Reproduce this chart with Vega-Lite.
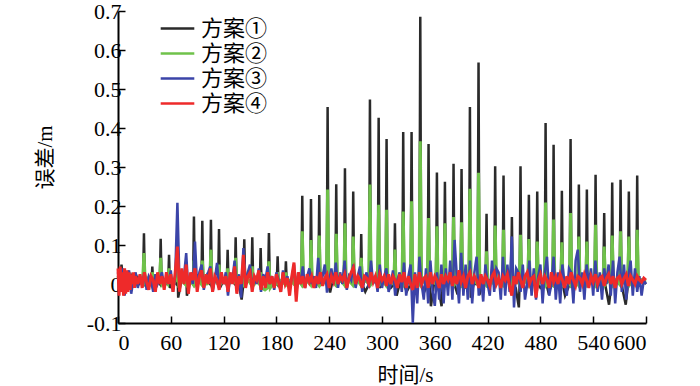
{
"$schema":"https://vega.github.io/schema/vega-lite/v6.json",
"width":528,"height":312,
"autosize":{"type":"none"},
"padding":{"left":118,"top":11,"right":54,"bottom":63},
"background":"white",
"config":{"view":{"stroke":null},"font":"Liberation Serif, Times New Roman, DejaVu Serif, serif",
"axis":{"grid":false,"domainColor":"black","domainWidth":2,"tickColor":"black","tickWidth":1.5,"tickSize":-7,"labelFont":"Liberation Serif, Times New Roman, DejaVu Serif, serif","labelFontSize":22,"labelColor":"black","titleFont":"Liberation Serif, Noto Sans CJK SC, serif","titleFontSize":21,"titleFontWeight":"normal","titleColor":"black"}},
"datasets":{
"k":[{"t":0,"v":0.02},{"t":2,"v":-0.01},{"t":4,"v":0.05},{"t":6,"v":0},{"t":9,"v":0.02},{"t":12,"v":-0.01},{"t":15,"v":0.02},{"t":18,"v":0},{"t":21,"v":0.02},{"t":24,"v":0},{"t":28.5,"v":0.01},{"t":29.5,"v":0.13},{"t":30.5,"v":0},{"t":34,"v":0.01},
{"t":38,"v":0},{"t":39,"v":0.045},{"t":40,"v":0},{"t":44,"v":0.01},
{"t":47.5,"v":0},{"t":48.5,"v":0.116},{"t":49.5,"v":0.01},{"t":53,"v":0},
{"t":57,"v":0},{"t":58,"v":0.075},{"t":59,"v":-0.01},{"t":63,"v":0.01},
{"t":66.4,"v":0},{"t":67.4,"v":0.06},{"t":68.4,"v":-0.035},{"t":72,"v":0.01},
{"t":76.3,"v":0},{"t":77.3,"v":0.05},{"t":78.3,"v":-0.03},{"t":82,"v":0.01},
{"t":85.3,"v":0},{"t":86.3,"v":0.173},{"t":87.3,"v":0},{"t":91,"v":0.01},
{"t":94.8,"v":0},{"t":95.8,"v":0.162},{"t":96.8,"v":0},{"t":101,"v":0.01},
{"t":104.6,"v":0},{"t":105.6,"v":0.165},{"t":106.6,"v":0},{"t":110,"v":0.01},
{"t":113.8,"v":0},{"t":114.8,"v":0.141},{"t":115.8,"v":-0.01},{"t":120,"v":0.01},
{"t":123.6,"v":0},{"t":124.6,"v":0.088},{"t":125.6,"v":0},{"t":129,"v":0.01},
{"t":132.7,"v":0},{"t":133.7,"v":0.12},{"t":134.7,"v":0},{"t":138,"v":-0.01},{"t":140.5,"v":-0.04},
{"t":142.5,"v":0},{"t":143.5,"v":0.115},{"t":144.5,"v":0},{"t":148,"v":0.01},
{"t":151.6,"v":0},{"t":152.6,"v":0.12},{"t":153.6,"v":0},{"t":157,"v":0.01},
{"t":161.1,"v":0},{"t":162.1,"v":0.092},{"t":163.1,"v":0},{"t":167,"v":0.01},
{"t":170.5,"v":0},{"t":171.5,"v":0.131},{"t":172.5,"v":0},{"t":176,"v":0.01},
{"t":180.4,"v":0},{"t":181.4,"v":0.071},{"t":182.4,"v":0},{"t":186,"v":0.01},
{"t":189.8,"v":0},{"t":190.8,"v":0.058},{"t":191.8,"v":0},{"t":196,"v":0.01},
{"t":200,"v":0},{"t":201,"v":0.03},{"t":202,"v":-0.02},{"t":205,"v":0.01},
{"t":208.4,"v":0},{"t":209.4,"v":0.226},{"t":210.4,"v":0},{"t":214,"v":0.01},
{"t":218.3,"v":0},{"t":219.3,"v":0.218},{"t":220.3,"v":0},{"t":224,"v":0.01},
{"t":227.7,"v":0},{"t":228.7,"v":0.228},{"t":229.7,"v":0},{"t":233,"v":0.01},
{"t":237.2,"v":0},{"t":238.2,"v":0.454},{"t":239.2,"v":0},{"t":241,"v":-0.022},{"t":244,"v":0.01},
{"t":247,"v":0},{"t":248,"v":0.256},{"t":249,"v":0},{"t":253,"v":0.01},
{"t":256.9,"v":0},{"t":257.9,"v":0.297},{"t":258.9,"v":0},{"t":262,"v":0.01},
{"t":266.3,"v":0},{"t":267.3,"v":0.237},{"t":268.3,"v":0},{"t":272,"v":0.01},
{"t":275.4,"v":0},{"t":276.4,"v":0.128},{"t":277.4,"v":0},{"t":281,"v":-0.02},
{"t":285.3,"v":0},{"t":286.3,"v":0.473},{"t":287.3,"v":0},{"t":291,"v":0.01},
{"t":295.2,"v":0},{"t":296.2,"v":0.426},{"t":297.2,"v":-0.01},{"t":301,"v":0.01},
{"t":304.2,"v":0},{"t":305.2,"v":0.372},{"t":306.2,"v":0},{"t":310,"v":-0.01},
{"t":313.7,"v":0},{"t":314.7,"v":0.156},{"t":315.7,"v":0},{"t":316.6,"v":-0.03},{"t":320,"v":0},
{"t":323.1,"v":0},{"t":324.1,"v":0.39},{"t":325.1,"v":0},{"t":328,"v":-0.02},
{"t":332.6,"v":0},{"t":333.6,"v":0.39},{"t":334.6,"v":0},{"t":338,"v":-0.01},
{"t":342.5,"v":0},{"t":343.5,"v":0.685},{"t":344.5,"v":0},{"t":348,"v":-0.02},
{"t":351.9,"v":0},{"t":352.9,"v":0.359},{"t":353.9,"v":0},{"t":355.6,"v":-0.057},{"t":359,"v":0},
{"t":361.4,"v":0},{"t":362.4,"v":0.286},{"t":363.4,"v":0},{"t":367.7,"v":-0.057},{"t":369,"v":0},
{"t":370.5,"v":0},{"t":371.5,"v":0.262},{"t":372.5,"v":0},{"t":376,"v":0.01},
{"t":380.3,"v":0},{"t":381.3,"v":0.308},{"t":382.3,"v":0},{"t":385,"v":-0.02},
{"t":389.4,"v":0},{"t":390.4,"v":0.295},{"t":391.4,"v":0},{"t":394,"v":-0.01},
{"t":398.9,"v":0},{"t":399.9,"v":0.454},{"t":400.9,"v":-0.035},{"t":404,"v":0},
{"t":408.7,"v":0},{"t":409.7,"v":0.568},{"t":410.7,"v":-0.028},{"t":414,"v":0.01},
{"t":417.8,"v":0},{"t":418.8,"v":0.18},{"t":419.8,"v":0},{"t":423,"v":0.01},
{"t":427.6,"v":0},{"t":428.6,"v":0.302},{"t":429.6,"v":0},{"t":433,"v":0.01},
{"t":437.1,"v":0},{"t":438.1,"v":0.278},{"t":439.1,"v":0},{"t":443,"v":0.01},
{"t":446.6,"v":0},{"t":447.6,"v":0.172},{"t":448.6,"v":0},{"t":452,"v":-0.01},{"t":455.5,"v":-0.06},
{"t":456.4,"v":0},{"t":457.4,"v":0.302},{"t":458.4,"v":0},{"t":462,"v":0.01},
{"t":465.9,"v":0},{"t":466.9,"v":0.229},{"t":467.9,"v":0},{"t":471,"v":0.01},
{"t":475.4,"v":0},{"t":476.4,"v":0.237},{"t":477.4,"v":0},{"t":480,"v":-0.01},
{"t":484.9,"v":0},{"t":485.9,"v":0.413},{"t":486.9,"v":0},{"t":489,"v":-0.02},
{"t":494,"v":0},{"t":495,"v":0.357},{"t":496,"v":0},{"t":499,"v":0.01},
{"t":503.4,"v":0},{"t":504.4,"v":0.239},{"t":505.4,"v":0},{"t":508,"v":-0.03},
{"t":513.3,"v":0},{"t":514.3,"v":0.372},{"t":515.3,"v":0},{"t":518,"v":0.01},
{"t":522.7,"v":0},{"t":523.7,"v":0.255},{"t":524.7,"v":0},{"t":528,"v":0.01},
{"t":531.8,"v":0},{"t":532.8,"v":0.242},{"t":533.8,"v":0},{"t":537,"v":0.01},
{"t":541.7,"v":0},{"t":542.7,"v":0.28},{"t":543.7,"v":0},{"t":547,"v":0.01},
{"t":551.5,"v":0},{"t":552.5,"v":0.182},{"t":553.5,"v":0},{"t":558,"v":-0.053},
{"t":560.6,"v":0},{"t":561.6,"v":0.26},{"t":562.6,"v":0},{"t":566,"v":0.01},
{"t":570.1,"v":0},{"t":571.1,"v":0.267},{"t":572.1,"v":0},{"t":577,"v":-0.053},
{"t":579.5,"v":0},{"t":580.5,"v":0.237},{"t":581.5,"v":0},{"t":585,"v":0.01},
{"t":589,"v":0},{"t":590,"v":0.278},{"t":591,"v":0},{"t":595,"v":0.01},{"t":600,"v":0}],
"g":[{"t":0,"v":0.02},{"t":3,"v":0},{"t":6,"v":0.03},{"t":9,"v":0},{"t":12,"v":0.02},{"t":15,"v":0.01},{"t":18,"v":0.02},{"t":21,"v":0},{"t":24,"v":0.01},
{"t":28,"v":0.01},{"t":29.5,"v":0.079},{"t":31,"v":0.005},{"t":34,"v":0.015},
{"t":37.5,"v":0},{"t":39,"v":0.03},{"t":40.5,"v":0.005},{"t":44,"v":0.01},
{"t":47,"v":0.005},{"t":48.5,"v":0.067},{"t":50,"v":0},{"t":53,"v":0.01},
{"t":56.5,"v":0},{"t":58,"v":0.04},{"t":59.5,"v":0.005},{"t":63,"v":0},
{"t":66,"v":0.01},{"t":67.4,"v":0.04},{"t":69,"v":0},{"t":72,"v":0.01},
{"t":76,"v":0},{"t":77.3,"v":0.03},{"t":79,"v":0},{"t":82,"v":0.01},
{"t":85,"v":0},{"t":86.3,"v":0.06},{"t":88,"v":0},{"t":91,"v":0.01},
{"t":94.5,"v":0},{"t":95.8,"v":0.06},{"t":97.5,"v":0.005},{"t":101,"v":0},
{"t":104,"v":0.005},{"t":105.6,"v":0.088},{"t":107,"v":0},{"t":110,"v":0.01},
{"t":113.5,"v":0},{"t":114.8,"v":0.05},{"t":116.5,"v":0},{"t":120,"v":0.01},
{"t":123,"v":0},{"t":124.6,"v":0.04},{"t":126,"v":0},{"t":129,"v":0.01},
{"t":132,"v":0.005},{"t":133.7,"v":0.067},{"t":135,"v":0},{"t":139,"v":0.01},
{"t":142,"v":0},{"t":143.5,"v":0.05},{"t":145,"v":0},{"t":148,"v":0.01},
{"t":151,"v":0},{"t":152.6,"v":0.045},{"t":154,"v":-0.005},{"t":157,"v":0.01},
{"t":160.5,"v":0},{"t":162.1,"v":0.03},{"t":163.5,"v":-0.01},{"t":167,"v":-0.015},
{"t":170,"v":-0.01},{"t":171.5,"v":0.058},{"t":173,"v":-0.01},{"t":176,"v":0},
{"t":180,"v":0},{"t":181.4,"v":0.03},{"t":183,"v":0},{"t":186,"v":0.01},
{"t":189.5,"v":0},{"t":190.8,"v":0.03},{"t":192,"v":0},{"t":196,"v":0.01},
{"t":200,"v":0},{"t":201,"v":0.02},{"t":202.5,"v":0},{"t":205,"v":0.01},
{"t":208,"v":0},{"t":209.4,"v":0.135},{"t":211,"v":0},{"t":214,"v":0.01},
{"t":218,"v":0},{"t":219.3,"v":0.113},{"t":221,"v":0},{"t":224,"v":0.01},
{"t":227.2,"v":0},{"t":228.7,"v":0.124},{"t":230.2,"v":0},{"t":233,"v":0.01},
{"t":236.7,"v":0},{"t":238.2,"v":0.242},{"t":239.7,"v":0},{"t":243,"v":0.01},
{"t":246.5,"v":0},{"t":248,"v":0.129},{"t":249.5,"v":0},{"t":253,"v":0.01},
{"t":256.4,"v":0},{"t":257.9,"v":0.156},{"t":259.4,"v":0},{"t":262,"v":0.01},
{"t":265.8,"v":0},{"t":267.3,"v":0.122},{"t":268.8,"v":0},{"t":272,"v":0.01},
{"t":275,"v":0},{"t":276.4,"v":0.067},{"t":278,"v":0},{"t":281,"v":0.01},
{"t":284.8,"v":0},{"t":286.3,"v":0.255},{"t":287.8,"v":0},{"t":291,"v":0.01},
{"t":294.7,"v":0},{"t":296.2,"v":0.203},{"t":297.7,"v":0},{"t":301,"v":0.01},
{"t":303.7,"v":0},{"t":305.2,"v":0.19},{"t":306.7,"v":0},{"t":310,"v":0.01},
{"t":313.2,"v":0},{"t":314.7,"v":0.088},{"t":316.2,"v":0},{"t":319,"v":0.01},
{"t":322.6,"v":0},{"t":324.1,"v":0.186},{"t":325.6,"v":0},{"t":329,"v":0.01},
{"t":332.1,"v":0},{"t":333.6,"v":0.212},{"t":335.1,"v":0},{"t":338,"v":0.01},
{"t":342,"v":0},{"t":343.5,"v":0.366},{"t":345,"v":0},{"t":348,"v":0.01},
{"t":351.4,"v":0},{"t":352.9,"v":0.169},{"t":354.4,"v":0},{"t":357,"v":0.01},
{"t":360.9,"v":0},{"t":362.4,"v":0.148},{"t":363.9,"v":0},{"t":367,"v":0.01},
{"t":370,"v":0},{"t":371.5,"v":0.156},{"t":373,"v":0},{"t":376,"v":0.01},
{"t":379.8,"v":0},{"t":381.3,"v":0.172},{"t":382.8,"v":0},{"t":386,"v":0.01},
{"t":388.9,"v":0},{"t":390.4,"v":0.158},{"t":391.9,"v":0},{"t":395,"v":0.01},
{"t":398.4,"v":0},{"t":399.9,"v":0.244},{"t":401.4,"v":0},{"t":405,"v":0.01},
{"t":408.2,"v":0},{"t":409.7,"v":0.285},{"t":411.2,"v":0},{"t":414,"v":0.01},
{"t":417.3,"v":0},{"t":418.8,"v":0.084},{"t":420.3,"v":0},{"t":424,"v":0.01},
{"t":427.1,"v":0},{"t":428.6,"v":0.15},{"t":430.1,"v":0},{"t":433,"v":0.01},
{"t":436.6,"v":0},{"t":438.1,"v":0.139},{"t":439.6,"v":0},{"t":443,"v":0.01},
{"t":446.1,"v":0},{"t":447.6,"v":0.09},{"t":449.1,"v":0},{"t":452,"v":0.01},
{"t":455.9,"v":0},{"t":457.4,"v":0.126},{"t":458.9,"v":0},{"t":462,"v":0.01},
{"t":465.4,"v":0},{"t":466.9,"v":0.115},{"t":468.4,"v":0},{"t":471,"v":0.01},
{"t":474.9,"v":0},{"t":476.4,"v":0.109},{"t":477.9,"v":0},{"t":481,"v":0.01},
{"t":484.4,"v":0},{"t":485.9,"v":0.209},{"t":487.4,"v":0},{"t":490,"v":0.01},
{"t":493.5,"v":0},{"t":495,"v":0.165},{"t":496.5,"v":0},{"t":500,"v":0.01},
{"t":502.9,"v":0},{"t":504.4,"v":0.107},{"t":505.9,"v":0},{"t":509,"v":0.01},
{"t":512.8,"v":0},{"t":514.3,"v":0.182},{"t":515.8,"v":0},{"t":519,"v":0.01},
{"t":522.2,"v":0},{"t":523.7,"v":0.122},{"t":525.2,"v":0},{"t":528,"v":0.01},
{"t":531.3,"v":0},{"t":532.8,"v":0.109},{"t":534.3,"v":0},{"t":538,"v":0.01},
{"t":541.2,"v":0},{"t":542.7,"v":0.152},{"t":544.2,"v":0},{"t":547,"v":0.01},
{"t":551,"v":0},{"t":552.5,"v":0.096},{"t":554,"v":0},{"t":557,"v":0.01},
{"t":560.1,"v":0},{"t":561.6,"v":0.124},{"t":563.1,"v":0},{"t":566,"v":0.01},
{"t":569.6,"v":0},{"t":571.1,"v":0.135},{"t":572.6,"v":0},{"t":576,"v":0.01},
{"t":579,"v":0},{"t":580.5,"v":0.122},{"t":582,"v":0},{"t":585,"v":0.01},
{"t":588.5,"v":0},{"t":590,"v":0.139},{"t":591.5,"v":0},{"t":595,"v":0.01},{"t":600,"v":0.005}],
"b":[{"t":0,"v":0.03},{"t":2.5,"v":-0.02},{"t":5,"v":0.04},{"t":7.5,"v":-0.03},{"t":10,"v":0.02},{"t":12.5,"v":0.035},{"t":15,"v":-0.025},{"t":17.5,"v":0.01},{"t":20,"v":0.03},{"t":22.5,"v":-0.01},
{"t":25,"v":0.02},{"t":27.5,"v":0},{"t":30,"v":0.03},{"t":32.5,"v":-0.015},{"t":35,"v":0.02},{"t":37.5,"v":0.01},{"t":40,"v":-0.02},{"t":42.5,"v":0.025},{"t":45,"v":0},{"t":47.5,"v":0.015},
{"t":50,"v":0.03},{"t":52.5,"v":-0.01},{"t":55,"v":0.02},{"t":57.5,"v":0},{"t":60,"v":0.035},{"t":62.5,"v":-0.02},{"t":65,"v":0.02},{"t":67.5,"v":0.208},{"t":70,"v":-0.01},{"t":72.5,"v":0.03},
{"t":75,"v":0.02},{"t":77.5,"v":0.079},{"t":80,"v":-0.02},{"t":82.5,"v":0.025},{"t":85,"v":0},{"t":87.5,"v":0.109},{"t":90,"v":-0.01},{"t":92.5,"v":0.03},{"t":95,"v":0.05},{"t":97.5,"v":-0.015},
{"t":100,"v":0.02},{"t":102.5,"v":0.03},{"t":105,"v":0.045},{"t":107.5,"v":-0.02},{"t":110,"v":0.01},{"t":112.5,"v":0.054},{"t":115,"v":-0.01},{"t":117.5,"v":0.02},{"t":120,"v":0},{"t":122.5,"v":0.03},
{"t":125,"v":-0.03},{"t":127.5,"v":0.02},{"t":130,"v":0.01},{"t":132.5,"v":0.06},{"t":135,"v":-0.01},{"t":137.5,"v":0.025},{"t":140,"v":-0.035},{"t":142.5,"v":0.092},{"t":145,"v":0},{"t":147.5,"v":0.03},
{"t":150,"v":0.05},{"t":152.5,"v":-0.01},{"t":155,"v":0.02},{"t":157.5,"v":0},{"t":160,"v":0.04},{"t":162.5,"v":-0.02},{"t":165,"v":0.025},{"t":167.5,"v":0.01},{"t":170,"v":0.045},{"t":172.5,"v":0},
{"t":175,"v":0.02},{"t":177.5,"v":-0.015},{"t":180,"v":0.03},{"t":182.5,"v":0.01},{"t":185,"v":-0.02},{"t":187.5,"v":0.035},{"t":190,"v":0},{"t":192.5,"v":0.02},{"t":195,"v":-0.01},{"t":197.5,"v":0.015},
{"t":200,"v":0.05},{"t":202.5,"v":-0.03},{"t":205,"v":0.03},{"t":207.5,"v":0},{"t":210,"v":0.045},{"t":212.5,"v":-0.01},{"t":215,"v":0.02},{"t":217.5,"v":0.04},{"t":220,"v":0},{"t":222.5,"v":0.02},
{"t":225,"v":-0.01},{"t":227.5,"v":0.067},{"t":230,"v":0},{"t":232.5,"v":0.02},{"t":235,"v":0.05},{"t":237.5,"v":-0.022},{"t":240,"v":0.01},{"t":242.5,"v":0.04},{"t":245,"v":0},{"t":247.5,"v":0.055},
{"t":250,"v":-0.01},{"t":252.5,"v":0.03},{"t":255,"v":0},{"t":257.5,"v":0.06},{"t":260,"v":-0.015},{"t":262.5,"v":0.02},{"t":265,"v":0.01},{"t":267.5,"v":0.05},{"t":270,"v":-0.01},{"t":272.5,"v":0.02},
{"t":275,"v":0.045},{"t":277.5,"v":-0.02},{"t":280,"v":0.01},{"t":282.5,"v":0.03},{"t":285,"v":-0.01},{"t":287.5,"v":0.06},{"t":290,"v":0},{"t":292.5,"v":0.02},{"t":295,"v":-0.02},{"t":297.5,"v":0.05},
{"t":300,"v":-0.01},{"t":302.5,"v":0.02},{"t":305,"v":0.04},{"t":307.5,"v":-0.02},{"t":310,"v":0},{"t":312.5,"v":0.035},{"t":315,"v":-0.03},{"t":317.5,"v":0.01},{"t":320,"v":0.03},{"t":322.5,"v":-0.02},
{"t":325,"v":0.055},{"t":327.5,"v":-0.03},{"t":330,"v":0.02},{"t":332.5,"v":0.05},{"t":335,"v":-0.1},{"t":337.5,"v":0.03},{"t":340,"v":-0.05},{"t":342.5,"v":0.07},{"t":345,"v":0},{"t":347.5,"v":-0.04},
{"t":350,"v":0.04},{"t":352.5,"v":-0.05},{"t":355,"v":0.06},{"t":357.5,"v":-0.02},{"t":360,"v":-0.056},{"t":362.5,"v":0.03},{"t":365,"v":-0.04},{"t":367.5,"v":0.05},{"t":370,"v":-0.05},{"t":372.5,"v":0.04},
{"t":375,"v":-0.03},{"t":377.5,"v":0.06},{"t":380,"v":-0.04},{"t":382.5,"v":0.113},{"t":385,"v":0.02},{"t":387.5,"v":-0.05},{"t":390,"v":0.08},{"t":392.5,"v":-0.03},{"t":395,"v":0.05},{"t":397.5,"v":-0.04},
{"t":400,"v":0.06},{"t":402.5,"v":-0.05},{"t":405,"v":0.03},{"t":407.5,"v":0.07},{"t":410,"v":-0.03},{"t":412.5,"v":0.02},{"t":415,"v":-0.045},{"t":417.5,"v":0.05},{"t":420,"v":0},{"t":422.5,"v":-0.03},
{"t":425,"v":0.06},{"t":427.5,"v":-0.02},{"t":430,"v":0.04},{"t":432.5,"v":0.03},{"t":435,"v":-0.04},{"t":437.5,"v":0.07},{"t":440,"v":-0.03},{"t":442.5,"v":0.05},{"t":445,"v":-0.02},{"t":447.5,"v":0.122},
{"t":450,"v":-0.06},{"t":452.5,"v":0.04},{"t":455,"v":0.03},{"t":457.5,"v":-0.02},{"t":460,"v":0.05},{"t":462.5,"v":-0.04},{"t":465,"v":0},{"t":467.5,"v":0.06},{"t":470,"v":-0.03},{"t":472.5,"v":0.04},
{"t":475,"v":-0.04},{"t":477.5,"v":0.02},{"t":480,"v":0.05},{"t":482.5,"v":-0.05},{"t":485,"v":0.03},{"t":487.5,"v":0.07},{"t":490,"v":-0.03},{"t":492.5,"v":0},{"t":495,"v":0.07},{"t":497.5,"v":-0.04},
{"t":500,"v":0.03},{"t":502.5,"v":-0.05},{"t":505,"v":0.05},{"t":507.5,"v":0},{"t":510,"v":-0.03},{"t":512.5,"v":0.04},{"t":515,"v":0.03},{"t":517.5,"v":-0.05},{"t":520,"v":0.06},{"t":522.5,"v":0.088},
{"t":525,"v":-0.02},{"t":527.5,"v":0.03},{"t":530,"v":-0.04},{"t":532.5,"v":0.05},{"t":535,"v":0},{"t":537.5,"v":0.04},{"t":540,"v":-0.03},{"t":542.5,"v":0.06},{"t":545,"v":-0.02},{"t":547.5,"v":0.03},
{"t":550,"v":-0.04},{"t":552.5,"v":0.04},{"t":555,"v":0},{"t":557.5,"v":0.05},{"t":560,"v":-0.03},{"t":562.5,"v":0.06},{"t":565,"v":-0.05},{"t":567.5,"v":0.03},{"t":570,"v":0.07},{"t":572.5,"v":-0.02},
{"t":575,"v":0.05},{"t":577.5,"v":-0.04},{"t":580,"v":0.02},{"t":582.5,"v":0.06},{"t":585,"v":-0.03},{"t":587.5,"v":0.04},{"t":590,"v":-0.02},{"t":592.5,"v":0.02},{"t":595,"v":-0.03},{"t":597.5,"v":0.01},{"t":600,"v":0}],
"r":[{"t":0,"v":0.04},{"t":1.25,"v":-0.03},{"t":2.5,"v":0.045},{"t":3.75,"v":-0.02},{"t":5,"v":0.03},{"t":6.25,"v":-0.03},{"t":7.5,"v":0.04},{"t":8.75,"v":-0.025},{"t":10,"v":0.035},{"t":11.25,"v":-0.02},{"t":12.5,"v":0.03},{"t":13.75,"v":-0.015},{"t":15,"v":0.025},{"t":16.25,"v":0},{"t":17.5,"v":0.03},{"t":18.75,"v":-0.01},{"t":20,"v":0.02},{"t":22.5,"v":0},
{"t":25,"v":0.025},{"t":27.5,"v":-0.01},{"t":30,"v":0.03},{"t":32.5,"v":0.005},{"t":35,"v":-0.015},{"t":37.5,"v":0.02},{"t":40,"v":0.01},{"t":42.5,"v":-0.02},{"t":45,"v":0.03},{"t":47.5,"v":0},
{"t":50,"v":0.02},{"t":52.5,"v":-0.015},{"t":55,"v":0.03},{"t":57.5,"v":0},{"t":60,"v":0.025},{"t":62.5,"v":-0.02},{"t":65,"v":0.03},{"t":67.5,"v":0.096},{"t":70,"v":-0.02},{"t":72.5,"v":0.04},
{"t":75,"v":0},{"t":77.5,"v":0.05},{"t":80,"v":-0.025},{"t":82.5,"v":0.03},{"t":85,"v":0.01},{"t":87.5,"v":0.04},{"t":90,"v":-0.02},{"t":92.5,"v":0.02},{"t":95,"v":0.035},{"t":97.5,"v":-0.01},
{"t":100,"v":0.025},{"t":102.5,"v":0},{"t":105,"v":0.04},{"t":107.5,"v":-0.02},{"t":110,"v":0.02},{"t":112.5,"v":0.01},{"t":115,"v":-0.015},{"t":117.5,"v":0.03},{"t":120,"v":0},{"t":122.5,"v":0.02},
{"t":125,"v":-0.02},{"t":127.5,"v":0.03},{"t":130,"v":0},{"t":132.5,"v":0.045},{"t":135,"v":-0.025},{"t":137.5,"v":0.02},{"t":140,"v":0},{"t":142.5,"v":0.075},{"t":145,"v":-0.01},{"t":147.5,"v":0.02},
{"t":150,"v":0.03},{"t":152.5,"v":-0.02},{"t":155,"v":0.02},{"t":157.5,"v":0.01},{"t":160,"v":0.035},{"t":162.5,"v":-0.015},{"t":165,"v":0.02},{"t":167.5,"v":-0.01},{"t":170,"v":0.03},{"t":172.5,"v":0},
{"t":175,"v":0.02},{"t":177.5,"v":-0.01},{"t":180,"v":0.025},{"t":182.5,"v":0.005},{"t":185,"v":-0.02},{"t":187.5,"v":0.03},{"t":190,"v":0},{"t":192.5,"v":0.015},{"t":195,"v":-0.03},{"t":197.5,"v":0.02},
{"t":200,"v":0.055},{"t":202.5,"v":-0.045},{"t":205,"v":0.03},{"t":207.5,"v":0},{"t":210,"v":0.02},{"t":212.5,"v":-0.01},{"t":215,"v":0.025},{"t":217.5,"v":0.005},{"t":220,"v":0.02},{"t":222.5,"v":-0.01},
{"t":225,"v":0.02},{"t":227.5,"v":0},{"t":230,"v":0.03},{"t":232.5,"v":-0.005},{"t":235,"v":0.015},{"t":237.5,"v":0.025},{"t":240,"v":-0.01},{"t":242.5,"v":0.02},{"t":245,"v":0.005},{"t":247.5,"v":0.03},
{"t":250,"v":0},{"t":252.5,"v":0.02},{"t":255,"v":0.01},{"t":257.5,"v":0.025},{"t":260,"v":-0.01},{"t":262.5,"v":0.015},{"t":265,"v":0.03},{"t":267.5,"v":0.042},{"t":270,"v":0},{"t":272.5,"v":0.02},
{"t":275,"v":0.01},{"t":277.5,"v":-0.01},{"t":280,"v":0.02},{"t":282.5,"v":0.015},{"t":285,"v":0},{"t":287.5,"v":0.03},{"t":290,"v":0.005},{"t":292.5,"v":0.02},{"t":295,"v":-0.01},{"t":297.5,"v":0.025},
{"t":300,"v":0.01},{"t":302.5,"v":0.02},{"t":305,"v":-0.005},{"t":307.5,"v":0.025},{"t":310,"v":0},{"t":312.5,"v":0.02},{"t":315,"v":0.01},{"t":317.5,"v":-0.01},{"t":320,"v":0.025},{"t":322.5,"v":0.005},
{"t":325,"v":0.03},{"t":327.5,"v":-0.01},{"t":330,"v":0.02},{"t":332.5,"v":0},{"t":335,"v":-0.015},{"t":337.5,"v":0.025},{"t":340,"v":-0.01},{"t":342.5,"v":0.03},{"t":345,"v":0},{"t":347.5,"v":0.015},
{"t":350,"v":0.02},{"t":352.5,"v":-0.01},{"t":355,"v":0.03},{"t":357.5,"v":0},{"t":360,"v":0.02},{"t":362.5,"v":0.01},{"t":365,"v":-0.01},{"t":367.5,"v":0.025},{"t":370,"v":0},{"t":372.5,"v":0.02},
{"t":375,"v":0.01},{"t":377.5,"v":0.03},{"t":380,"v":-0.005},{"t":382.5,"v":0.02},{"t":385,"v":0},{"t":387.5,"v":0.035},{"t":390,"v":0.005},{"t":392.5,"v":0.02},{"t":395,"v":-0.01},{"t":397.5,"v":0.02},
{"t":400,"v":0.03},{"t":402.5,"v":0},{"t":405,"v":0.02},{"t":407.5,"v":0.01},{"t":410,"v":-0.01},{"t":412.5,"v":0.025},{"t":415,"v":0},{"t":417.5,"v":0.02},{"t":420,"v":0.01},{"t":422.5,"v":-0.005},
{"t":425,"v":0.02},{"t":427.5,"v":0.03},{"t":430,"v":0},{"t":432.5,"v":0.015},{"t":435,"v":-0.01},{"t":437.5,"v":0.02},{"t":440,"v":0.01},{"t":442.5,"v":0.025},{"t":445,"v":-0.005},{"t":447.5,"v":-0.03},
{"t":450,"v":0.02},{"t":452.5,"v":0},{"t":455,"v":0.03},{"t":457.5,"v":0.01},{"t":460,"v":-0.01},{"t":462.5,"v":0.02},{"t":465,"v":0.03},{"t":467.5,"v":0},{"t":470,"v":0.015},{"t":472.5,"v":0.02},
{"t":475,"v":-0.035},{"t":477.5,"v":0.01},{"t":480,"v":0.025},{"t":482.5,"v":0},{"t":485,"v":0.02},{"t":487.5,"v":0.01},{"t":490,"v":-0.01},{"t":492.5,"v":0.03},{"t":495,"v":0.005},{"t":497.5,"v":0.02},
{"t":500,"v":0},{"t":502.5,"v":0.025},{"t":505,"v":0.01},{"t":507.5,"v":-0.01},{"t":510,"v":0.02},{"t":512.5,"v":0},{"t":515,"v":0.03},{"t":517.5,"v":0.01},{"t":520,"v":-0.005},{"t":522.5,"v":0.02},
{"t":525,"v":0.015},{"t":527.5,"v":0},{"t":530,"v":0.025},{"t":532.5,"v":0.01},{"t":535,"v":-0.01},{"t":537.5,"v":0.02},{"t":540,"v":0.005},{"t":542.5,"v":0.025},{"t":545,"v":0},{"t":547.5,"v":0.015},
{"t":550,"v":0.02},{"t":552.5,"v":-0.005},{"t":555,"v":0.015},{"t":557.5,"v":0.025},{"t":560,"v":0},{"t":562.5,"v":0.02},{"t":565,"v":-0.01},{"t":567.5,"v":0.015},{"t":570,"v":0.02},{"t":572.5,"v":0},
{"t":575,"v":0.015},{"t":577.5,"v":0.025},{"t":580,"v":-0.005},{"t":582.5,"v":0.02},{"t":585,"v":0.01},{"t":587.5,"v":0},{"t":590,"v":0.02},{"t":592.5,"v":0.01},{"t":595,"v":0.005},{"t":597.5,"v":0.015},{"t":600,"v":0.01}]
},
"encoding":{
"x":{"field":"t","type":"quantitative","scale":{"domain":[0,600],"nice":false},
"axis":{"values":[0,60,120,180,240,300,360,420,480,540,600],"title":"时间/s","labelPadding":16,"titleX":287,"titleY":52,"titleBaseline":"middle","titleAlign":"center"}},
"y":{"field":"v","type":"quantitative","scale":{"domain":[-0.1,0.7],"nice":false,"zero":false},
"axis":{"values":[-0.1,0,0.1,0.2,0.3,0.4,0.5,0.6,0.7],"labelExpr":"datum.value === 0 ? '0' : replace(format(datum.value, '.1f'), '\u2212', '-')","title":"误差/m","labelPadding":4,"titleX":-73,"titleY":146,"titleAngle":-90,"titleBaseline":"middle","titleAlign":"center"}}
},
"layer":[
{"data":{"name":"k"},"mark":{"type":"line","strokeWidth":2.5},
"encoding":{"color":{"datum":"方案①","type":"nominal","scale":{"domain":["方案①","方案②","方案③","方案④"],"range":["#2a2a2a","#6fc24a","#3b44a8","#ee2a2a"]},
"legend":{"orient":"none","legendX":46,"legendY":4,"title":null,"symbolType":"M-1.4,0H1.4","symbolSize":576,"symbolStrokeWidth":2.5,"labelFont":"Liberation Serif, Noto Sans CJK SC, serif","labelFontSize":22,"labelColor":"black","labelOffset":10,"rowPadding":0,"padding":0,"labelLimit":200}}}},
{"data":{"name":"g"},"mark":{"type":"line","strokeWidth":3},"encoding":{"color":{"datum":"方案②","type":"nominal"}}},
{"data":{"name":"b"},"mark":{"type":"line","strokeWidth":2.5},"encoding":{"color":{"datum":"方案③","type":"nominal"}}},
{"data":{"name":"r"},"mark":{"type":"line","strokeWidth":3},"encoding":{"color":{"datum":"方案④","type":"nominal"}}}
]
}
